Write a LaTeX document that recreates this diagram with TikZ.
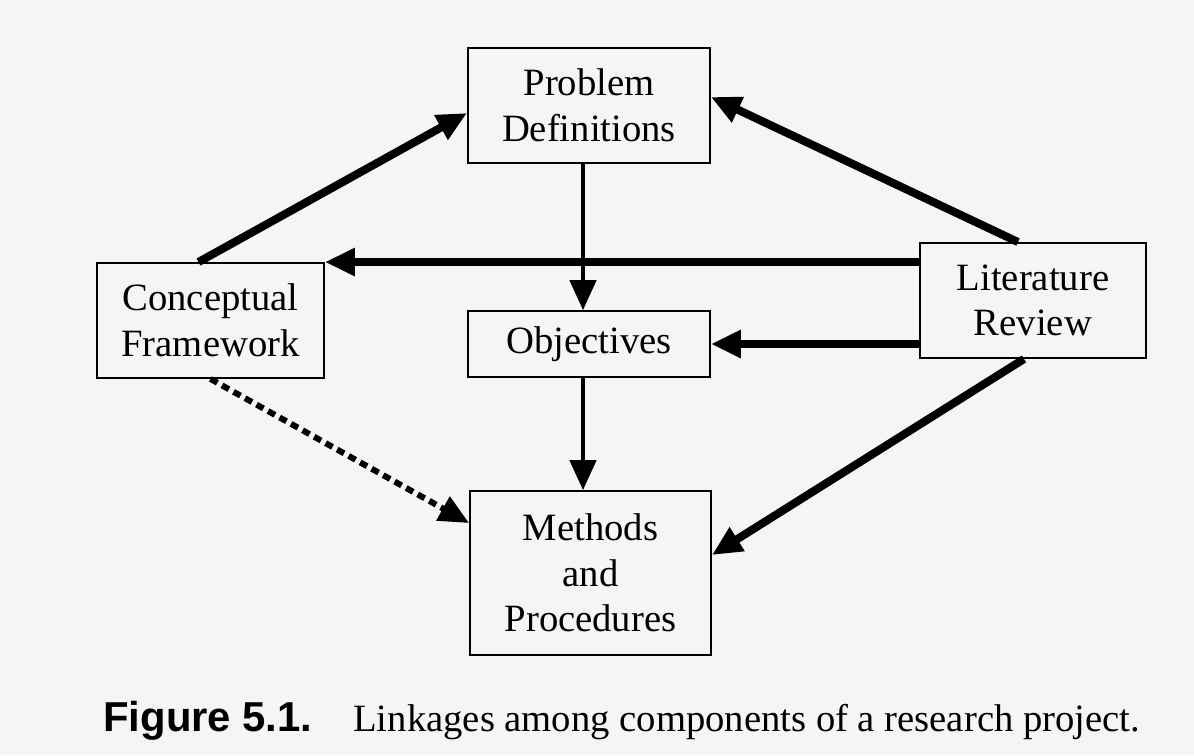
\documentclass[tikz,border=0pt]{standalone}
\usepackage{fontspec}
\setmainfont{Liberation Serif}
\setsansfont{Liberation Sans}
\usepackage{tikz}
\usetikzlibrary{arrows.meta, positioning, calc}

\begin{document}
\begin{tikzpicture}[
    x=0.02cm, y=-0.02cm,
    box/.style={draw, line width=1.1pt, align=center, inner sep=0pt, font=\fontsize{22}{26}\selectfont},
    bigarr/.style={-{Triangle[length=17pt, width=15pt]}, line width=4.6pt},
    thinarr/.style={-{Triangle[length=17pt, width=15pt]}, line width=1.9pt},
    dotarr/.style={-{Triangle[length=17pt, width=15pt]}, line width=3.4pt, dash pattern=on 4.5pt off 3pt},
]

% page and background
\fill[black!4] (0,0) rectangle (1194,755);
\useasboundingbox (0,0) rectangle (1194,755);

\node[box, minimum width=4.84cm, minimum height=2.3cm] (pd) at (589,105.5) {Problem\\Definitions};
\node[box, minimum width=4.84cm, minimum height=1.32cm] (obj) at (589,344) {Objectives};
\node[box, minimum width=4.54cm, minimum height=2.3cm] (cf) at (210.5,320.5) {Conceptual\\Framework};
\node[box, minimum width=4.52cm, minimum height=2.3cm] (lr) at (1033,300.5) {Literature\\Review};
\node[box, minimum width=4.82cm, minimum height=3.28cm] (mp) at (590.5,573) {Methods\\and\\Procedures};

\draw[bigarr] ($(cf.north)+(-12,0)$) -- ($(pd.west)+(0,7.5)$);
\draw[bigarr] ($(lr.north)+(-15,0)$) -- ($(pd.east)+(0,-8.5)$);
\draw[bigarr] (lr.west |- cf.north) -- (cf.north east);
\draw[bigarr] (lr.west |- obj.east) -- (obj.east);
\draw[bigarr] ($(lr.south)+(-9,0)$) -- ($(mp.east)+(0,-18)$);

\draw[thinarr] ($(pd.south)+(-6,0)$) -- ($(obj.north)+(-6,0)$);
\draw[thinarr] ($(obj.south)+(-6,0)$) -- ($(mp.north)+(-7.5,0)$);

\draw[dotarr] (cf.south) -- ($(mp.west)+(0,-50)$);

% caption
\node[anchor=base west, inner sep=0pt, font=\sffamily\bfseries\fontsize{23.8}{26}\selectfont] (capnum) at (103,731) {Figure 5.1.};
\node[anchor=base west, inner sep=0pt, font=\fontsize{22}{26}\selectfont] (captext) at (353,731) {Linkages among components of a research project.};

\end{tikzpicture}
\end{document}
